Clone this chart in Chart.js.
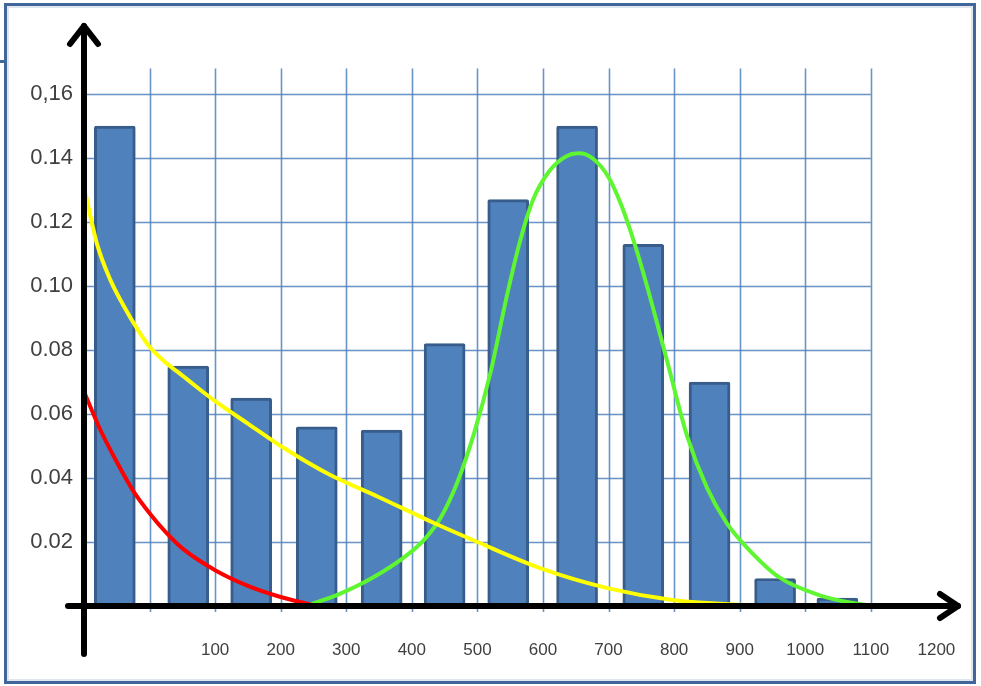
<!DOCTYPE html>
<html>
<head>
<meta charset="utf-8">
<script src="https://cdn.jsdelivr.net/npm/chart.js@4/dist/chart.umd.min.js"></script>
<style>
  body { margin: 0; background: #fff; }
  #wrap { position: relative; width: 981px; height: 686px; }
  #frame { position: absolute; left: 4px; top: 3px; width: 966px; height: 675px;
           border: 3px solid #41669a; box-shadow: inset 0 0 0 2px #dfe6f0; pointer-events: none; }
  #stub { position: absolute; left: 0; top: 60px; width: 6px; height: 3px; background: #41669a; }
</style>
</head>
<body>
<div id="wrap">
  <canvas id="myChart" width="981" height="686"></canvas>
  <div id="frame"></div>
  <div id="stub"></div>
</div>
<script>
// histogram bins (bar centres) and relative frequencies
const binCenters = [-53, 59, 155, 255, 354, 450, 547, 652, 753, 854, 954, 1049];
const barValues = [0.150, 0.075, 0.065, 0.056, 0.055, 0.082, 0.127, 0.150, 0.113, 0.070, 0.0086, 0.0025];

// fitted curves
const redX = [-98, -75, -50, -25, 0, 25, 50, 100, 150, 200, 245, 255];
const redY = [0.066, 0.055, 0.045, 0.036, 0.029, 0.023, 0.018, 0.0112, 0.0063, 0.0028, 0.0005, 0];

const yellowX = [-98, -80, -60, -40, -20, 0, 25, 50, 100, 150, 200, 275, 350, 433, 500, 600, 700, 800, 900, 1000, 1100];
const yellowY = [0.129, 0.113, 0.102, 0.094, 0.087, 0.081, 0.076, 0.072, 0.064, 0.057, 0.050, 0.041, 0.034, 0.026, 0.020, 0.0115, 0.0055, 0.0018, 0.0004, 0, 0];

const greenX = [238, 290, 340, 390, 420, 445, 470, 495, 520, 545, 565, 585, 610, 635, 655, 675, 700, 720, 740, 760, 790, 820, 850, 880, 910, 960, 1020, 1070, 1105];
const greenY = [0, 0.0038, 0.0088, 0.0155, 0.021, 0.028, 0.039, 0.054, 0.073, 0.097, 0.114, 0.127, 0.136, 0.1405, 0.1415, 0.140, 0.134, 0.125, 0.113, 0.099, 0.076, 0.053, 0.037, 0.026, 0.0185, 0.009, 0.0035, 0.001, 0];

const xTickValues = [100, 200, 300, 400, 500, 600, 700, 800, 900, 1000, 1100, 1200];
const xTickLabels = ['100', '200', '300', '400', '500', '600', '700', '800', '900', '1000', '1100', '1200'];
const yTickValues = [0.02, 0.04, 0.06, 0.08, 0.10, 0.12, 0.14, 0.16];
const yTickLabels = ['0.02', '0.04', '0.06', '0.08', '0.10', '0.12', '0.14', '0,16'];
const gridX = [0, 100, 200, 300, 400, 500, 600, 700, 800, 900, 1000, 1100];

const toPoints = (xs, ys) => xs.map((x, i) => ({ x: x, y: ys[i] }));

// hand-drawn style grid and arrow axes
const drawAxes = {
    id: 'drawAxes',
    beforeDatasetsDraw(chart) {
        const ctx = chart.ctx;
        const xs = chart.scales.x, ys = chart.scales.y;
        ctx.save();
        ctx.strokeStyle = 'rgba(79,129,189,0.85)';
        ctx.lineWidth = 1.6;
        const left = xs.getPixelForValue(-100), right = xs.getPixelForValue(1100);
        const top = ys.getPixelForValue(0.168), bottom = ys.getPixelForValue(0);
        yTickValues.forEach(v => {
            const y = Math.round(ys.getPixelForValue(v)) + 0.5;
            ctx.beginPath(); ctx.moveTo(left, y); ctx.lineTo(right, y); ctx.stroke();
        });
        gridX.forEach(v => {
            const x = Math.round(xs.getPixelForValue(v)) + 0.5;
            ctx.beginPath(); ctx.moveTo(x, top); ctx.lineTo(x, bottom + 6); ctx.stroke();
        });
        ctx.restore();
    },
    afterDatasetsDraw(chart) {
        const ctx = chart.ctx;
        const xs = chart.scales.x, ys = chart.scales.y;
        const ax = xs.getPixelForValue(-100), ay = ys.getPixelForValue(0);
        ctx.save();
        ctx.strokeStyle = '#000';
        ctx.lineWidth = 6;
        ctx.lineCap = 'round';
        ctx.lineJoin = 'round';
        // y axis
        ctx.beginPath(); ctx.moveTo(ax, 654); ctx.lineTo(ax, 26); ctx.stroke();
        ctx.beginPath(); ctx.moveTo(ax - 14, 44); ctx.lineTo(ax, 26); ctx.lineTo(ax + 14, 44); ctx.stroke();
        // x axis
        const tip = chart.chartArea.right - 2;
        ctx.beginPath(); ctx.moveTo(68, ay); ctx.lineTo(tip, ay); ctx.stroke();
        ctx.beginPath(); ctx.moveTo(tip - 18, ay - 12); ctx.lineTo(tip, ay); ctx.lineTo(tip - 18, ay + 12); ctx.stroke();
        ctx.restore();
    }
};

Chart.defaults.font.family = 'Liberation Sans';

const ctx = document.querySelector('#myChart');
const myChart = new Chart(ctx, {
    data: {
        datasets: [{
            type: 'line',
            label: 'red',
            data: toPoints(redX, redY),
            borderColor: '#ff0000',
            borderWidth: 4,
            pointRadius: 0,
            cubicInterpolationMode: 'monotone'
        }, {
            type: 'line',
            label: 'yellow',
            data: toPoints(yellowX, yellowY),
            borderColor: '#ffff00',
            borderWidth: 4,
            pointRadius: 0,
            cubicInterpolationMode: 'monotone'
        }, {
            type: 'line',
            label: 'green',
            data: toPoints(greenX, greenY),
            borderColor: '#5ef531',
            borderWidth: 4,
            pointRadius: 0,
            cubicInterpolationMode: 'monotone'
        }, {
            type: 'bar',
            label: 'frequency',
            data: toPoints(binCenters, barValues),
            backgroundColor: '#4f81bd',
            borderColor: '#385d8a',
            borderWidth: 3,
            borderRadius: 2,
            barThickness: 41
        }]
    },
    options: {
        responsive: false,
        animation: false,
        layout: { padding: { top: 30, right: 21, left: 0, bottom: 0 } },
        plugins: { legend: { display: false }, tooltip: { enabled: false } },
        scales: {
            x: {
                type: 'linear',
                offset: false,
                min: -100,
                max: 1236,
                grid: { display: false },
                border: { display: false },
                afterFit: (s) => { s.height = 80; s.paddingLeft = 0; s.paddingRight = 0; },
                afterBuildTicks: (s) => { s.ticks = xTickValues.map(v => ({ value: v })); },
                ticks: {
                    autoSkip: false,
                    maxRotation: 0,
                    padding: 26,
                    color: '#404040',
                    font: { size: 17 },
                    callback: (v, i) => xTickLabels[i]
                }
            },
            y: {
                type: 'linear',
                min: 0,
                max: 0.18,
                grid: { display: false },
                border: { display: false },
                afterFit: (s) => { s.width = 84; s.paddingTop = 0; s.paddingBottom = 0; },
                afterBuildTicks: (s) => { s.ticks = yTickValues.map(v => ({ value: v })); },
                ticks: {
                    padding: 3,
                    color: '#404040',
                    font: { size: 22 },
                    callback: (v, i) => yTickLabels[i]
                }
            }
        }
    },
    plugins: [drawAxes]
});
</script>
</body>
</html>
